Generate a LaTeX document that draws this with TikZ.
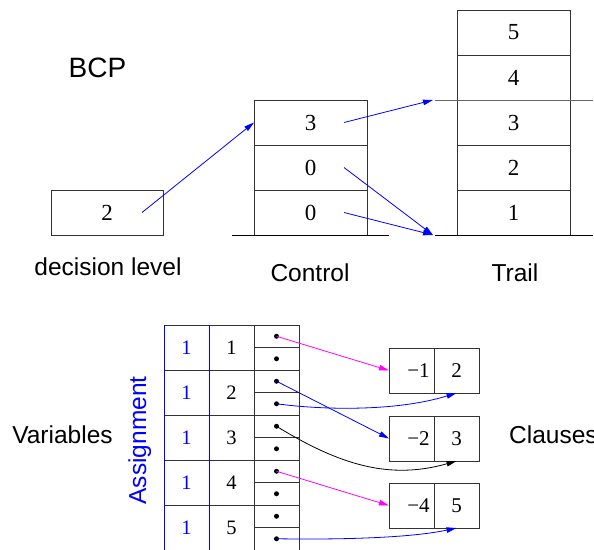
\documentclass[tikz,border=0pt]{standalone}
\usepackage{fontspec}
\setmainfont{Liberation Serif}
\newfontfamily\labfont{Liberation Sans}
\usetikzlibrary{arrows.meta}
\definecolor{ptrmag}{RGB}{255,0,255}
\definecolor{ptrblue}{RGB}{0,0,255}
\begin{document}
\begin{tikzpicture}[x=1pt,y=-1pt,
  cellbox/.style={draw=black!80, line width=0.9pt, inner sep=0pt, outer sep=0pt},
  bigcell/.style={cellbox, minimum width=113pt, minimum height=45pt, font=\fontsize{23}{26}\selectfont},
  tabcell/.style={cellbox, minimum width=45pt, minimum height=45pt, font=\fontsize{20.5}{23}\selectfont},
  ptrcell/.style={cellbox, minimum width=45pt, minimum height=22.5pt},
  clcell/.style={cellbox, minimum width=45pt, minimum height=45pt, font=\fontsize{21}{24}\selectfont},
  labeltext/.style={inner sep=0pt, font=\labfont\fontsize{24.5}{28}\selectfont},
  ptrarrow/.style={line width=0.8pt, -{Stealth[length=10pt,width=5.5pt,inset=0pt]}},
  dotmark/.style={circle, fill=black, inner sep=0pt, minimum size=5pt}
]
\useasboundingbox (0,0) rectangle (594,549);

% ---------- top part ----------
\node[labeltext, anchor=base, font=\labfont\fontsize{28}{32}\selectfont] (bcp) at (97.5,77) {BCP};

\node[bigcell, minimum width=112pt] (dl) at (107,212.5) {2};
\node[labeltext, anchor=base] (dllab) at (108,275) {decision level};

\node[bigcell] (c3) at (310.5,122.5) {3};
\node[bigcell] (c2) at (310.5,167.5) {0};
\node[bigcell] (c1) at (310.5,212.5) {0};
\draw[line width=0.9pt] ([xshift=-22pt]c1.south west) -- ([xshift=22pt]c1.south east);
\node[labeltext, anchor=base] (clab) at (310,281) {Control};

\node[bigcell] (t5) at (513.5,32.5) {5};
\node[bigcell] (t4) at (513.5,77.5) {4};
\node[bigcell] (t3) at (513.5,122.5) {3};
\node[bigcell] (t2) at (513.5,167.5) {2};
\node[bigcell] (t1) at (513.5,212.5) {1};
\draw[line width=0.9pt, black!60] ([xshift=-22pt]t3.north west) -- ([xshift=23pt]t3.north east);
\draw[line width=0.9pt] ([xshift=-22pt]t1.south west) -- ([xshift=23pt]t1.south east);
\node[labeltext, anchor=base] (tlab) at (515,281) {Trail};

\coordinate (dls) at ([xshift=35pt]dl.center);
\coordinate (c3s) at ([xshift=33.5pt]c3.center);
\coordinate (c2s) at ([xshift=33.5pt]c2.center);
\coordinate (c1s) at ([xshift=33.5pt]c1.center);
\coordinate (ttop) at ([xshift=-24pt]t3.north west);
\coordinate (tbot) at ([xshift=-24pt]t1.south west);

\draw[ptrarrow, ptrblue] (dls) -- (c3.west);
\draw[ptrarrow, ptrblue] (c3s) -- (ttop);
\draw[ptrarrow, ptrblue] (c2s) -- (tbot);
\draw[ptrarrow, ptrblue] (c1s) -- (tbot);

% ---------- bottom part ----------
\foreach \i/\y in {1/347.5,2/392.5,3/437.5,4/482.5,5/527.5}{
  \node[tabcell, text=ptrblue] (a\i) at (186.5,\y) {1};
  \node[tabcell] (v\i) at (231.5,\y) {\i};
  \node[ptrcell] (p\i a) at (276.5,\y-11.25) {};
  \node[ptrcell] (p\i b) at (276.5,\y+11.25) {};
  \node[dotmark] at (p\i a.center) {};
  \node[dotmark] at (p\i b.center) {};
}
\draw[ptrblue, line width=0.9pt] (a1.north west) -- (a5.south west);
\draw[ptrblue, line width=0.9pt] (a1.north east) -- (a5.south east);

\node[labeltext, anchor=base, text=ptrblue, rotate=90] (asg) at (146,440.5) {Assignment};
\node[labeltext, anchor=base] (varlab) at (62.5,443) {Variables};
\node[labeltext, anchor=base west] (cllab) at (509,443) {Clauses};

\node[clcell] (k1a) at (411.5,370.5) {\hspace*{14pt}−1};
\node[clcell] (k1b) at (456.5,370.5) {2};
\node[clcell] (k2a) at (411.5,438.5) {\hspace*{14pt}−2};
\node[clcell] (k2b) at (456.5,438.5) {3};
\node[clcell] (k3a) at (411.5,505.5) {\hspace*{14pt}−4};
\node[clcell] (k3b) at (456.5,505.5) {5};

\draw[ptrarrow, ptrmag] (p1a.center) -- (k1a.west);
\draw[ptrarrow, ptrblue] (p2a.center) -- (k2a.west);
\draw[ptrarrow, ptrblue] (p2b.center) .. controls +(43.5,6) and +(-61.5,19) .. (k1b.south);
\draw[ptrarrow, black] (p3a.center) .. controls +(63.5,39) and +(-66.5,19) .. (k2b.south);
\draw[ptrarrow, ptrmag] (p4a.center) -- (k3a.west);
\draw[ptrarrow, ptrblue] (p5b.center) .. controls +(63.5,1) and +(-46.5,10) .. (k3b.south);
\end{tikzpicture}
\end{document}
